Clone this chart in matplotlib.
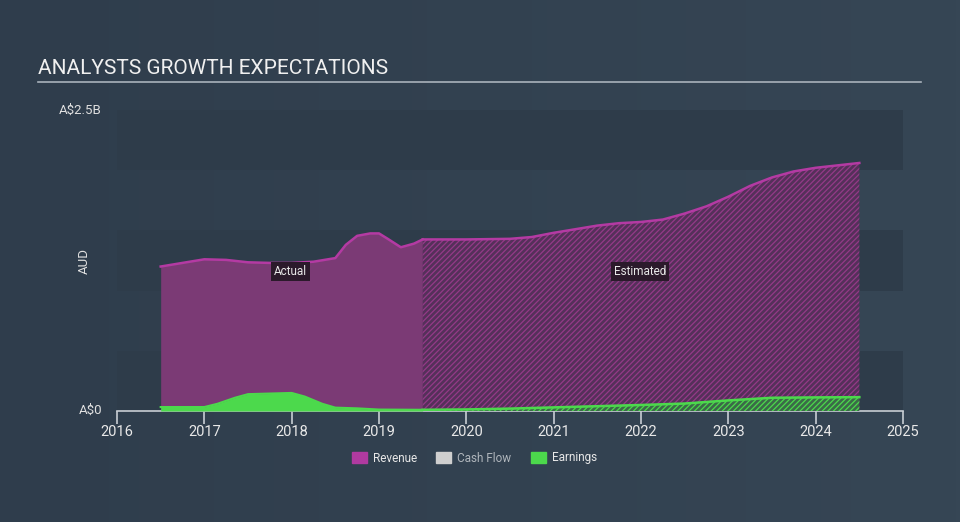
import numpy as np
import matplotlib.pyplot as plt
from matplotlib.patches import Rectangle
from matplotlib.colors import LinearSegmentedColormap

# data (values in A$ billions)
rev_x = [2016.5, 2016.75, 2017.0, 2017.25, 2017.5, 2017.75, 2018.0, 2018.25, 2018.5, 2018.62,
         2018.75, 2018.9, 2019.0, 2019.1, 2019.25, 2019.4, 2019.5]
rev_y = [1.20, 1.23, 1.26, 1.255, 1.235, 1.23, 1.23, 1.24, 1.27, 1.38,
         1.455, 1.475, 1.475, 1.43, 1.36, 1.39, 1.425]
est_x = [2019.5, 2020.0, 2020.5, 2020.75, 2021.0, 2021.25, 2021.5, 2021.75, 2022.0, 2022.25,
         2022.5, 2022.75, 2023.0, 2023.25, 2023.5, 2023.75, 2024.0, 2024.25, 2024.5]
est_y = [1.425, 1.425, 1.43, 1.445, 1.48, 1.51, 1.54, 1.56, 1.57, 1.59,
         1.64, 1.70, 1.78, 1.87, 1.94, 1.99, 2.02, 2.04, 2.06]

earn_x = [2016.5, 2017.0, 2017.15, 2017.35, 2017.5, 2017.75, 2018.0, 2018.15, 2018.35, 2018.5,
          2018.75, 2019.0, 2019.5]
earn_y = [0.033, 0.033, 0.06, 0.11, 0.14, 0.145, 0.15, 0.12, 0.06, 0.028,
          0.022, 0.012, 0.01]
earn_est_x = [2019.5, 2020.0, 2020.5, 2021.0, 2021.5, 2022.0, 2022.5, 2023.0, 2023.5, 2024.0, 2024.5]
earn_est_y = [0.01, 0.013, 0.02, 0.03, 0.04, 0.05, 0.062, 0.088, 0.11, 0.113, 0.115]

years = list(range(2016, 2026))

bg = '#334250'
band = '#2e3c4a'
rev_fill = '#7b3a75'
rev_line = '#b43aa3'
earn_col = '#4cd94c'

fig = plt.figure(figsize=(9.6, 5.22), dpi=100)
fig.patch.set_facecolor(bg)

# background gradient
bga = fig.add_axes([0, 0, 1, 1])
grad = np.linspace(0, 1, 256).reshape(1, -1)
cmap = LinearSegmentedColormap.from_list('bg', ['#2f3d4c', '#364655'])
bga.imshow(grad, aspect='auto', cmap=cmap, extent=[0, 1, 0, 1])
bga.set_axis_off()

fig.text(38 / 960, 1 - 68 / 522, 'ANALYSTS GROWTH EXPECTATIONS', color='#f0f0f0',
         fontsize=15, va='center', ha='left', family='Roboto')
bga.plot([38 / 960, 921 / 960], [1 - 82 / 522, 1 - 82 / 522], color='#a9b2bb', lw=1.2,
         transform=fig.transFigure)

ax = fig.add_axes([117 / 960, 1 - 411 / 522, (903 - 117) / 960, 301 / 522])
ax.set_facecolor('none')
ax.set_xlim(2016, 2025)
ax.set_ylim(0, 2.5)

for i in range(5):
    if i % 2 == 0:
        ax.axhspan(i * 0.5, i * 0.5 + 0.5, color=band, lw=0, zorder=0)

# actual
ax.fill_between(rev_x, 0, rev_y, color=rev_fill, lw=0, zorder=2)
ax.plot(rev_x, rev_y, color=rev_line, lw=1.8, zorder=3)
# estimated (hatched)
plt.rcParams['hatch.color'] = '#943a88'
plt.rcParams['hatch.linewidth'] = 0.9
ax.fill_between(est_x, 0, est_y, facecolor='#55305a', edgecolor='#943a88', hatch='//////',
                lw=0, zorder=2)
ax.plot(est_x, est_y, color=rev_line, lw=1.8, zorder=3)

ax.fill_between(earn_x, 0, earn_y, color=earn_col, lw=0, zorder=4)
ax.plot(earn_x, earn_y, color=earn_col, lw=1.5, zorder=5)
plt.rcParams['hatch.color'] = earn_col
ax.fill_between(earn_est_x, 0, earn_est_y, facecolor='#3b6a48', edgecolor=earn_col,
                hatch='//////', lw=0, zorder=4)
ax.plot(earn_est_x, earn_est_y, color=earn_col, lw=1.8, zorder=5)

ax.text(2017.99, 1.155, 'Actual', color='#e8e8e8', fontsize=8.5, ha='center', va='center',
        family='Roboto', zorder=6,
        bbox=dict(boxstyle='square,pad=0.25', fc='#2b1a2b', ec='none'))
ax.text(2021.99, 1.155, 'Estimated', color='#e8e8e8', fontsize=8.5, ha='center', va='center',
        family='Roboto', zorder=6,
        bbox=dict(boxstyle='square,pad=0.25', fc='#2b1a2b', ec='none'))

for s in ['top', 'right', 'left']:
    ax.spines[s].set_visible(False)
ax.spines['bottom'].set_color('#c8ced4')
ax.spines['bottom'].set_linewidth(1.2)
ax.set_xticks(years)
ax.set_xticklabels([str(y) for y in years], color='#e8e8e8', fontsize=10.5, family='Roboto')
ax.tick_params(axis='x', colors='#c8ced4', length=9, width=1.2, labelcolor='#e8e8e8', pad=1)
ax.set_yticks([])

fig.text(102 / 960, 1 - 110 / 522, 'A$2.5B', color='#e0e0e0', fontsize=9.5, ha='right',
         va='center', family='Roboto')
fig.text(102 / 960, 1 - 410 / 522, 'A$0', color='#e0e0e0', fontsize=9.5, ha='right',
         va='center', family='Roboto')
fig.text(84 / 960, 1 - 261 / 522, 'AUD', color='#e0e0e0', fontsize=9.5, ha='center',
         va='center', rotation=90, family='Roboto')

# legend
leg_items = [('Revenue', '#b03aa0', '#e8e8e8', 352), ('Cash Flow', '#cfcfcf', '#b0b6bc', 436),
             ('Earnings', earn_col, '#e8e8e8', 531)]
for name, c, tc, px in leg_items:
    fig.patches.append(Rectangle((px / 960, 1 - 463 / 522), 15 / 960, 11 / 522,
                                 transform=fig.transFigure, color=c))
    fig.text((px + 21) / 960, 1 - 458 / 522, name, color=tc, fontsize=8.5, va='center',
             ha='left', family='Roboto')

fig.savefig('out.png', dpi=100, facecolor=bg)
